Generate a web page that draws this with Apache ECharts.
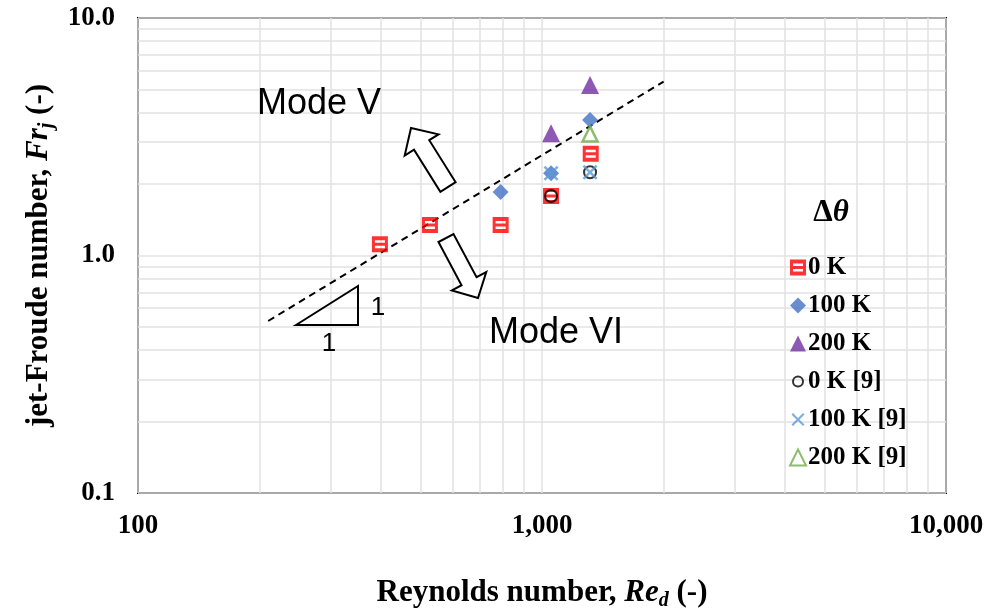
<!DOCTYPE html>
<html><head><meta charset="utf-8">
<script src="https://cdn.jsdelivr.net/npm/echarts@6/dist/echarts.min.js"></script>
<style>html,body{margin:0;padding:0;background:#fff}#c{width:989px;height:615px}</style>
</head><body><div id="c"></div>
<script>
// ---- data ----
const xTickLabels = ['100', '1,000', '10,000'];
const yTickLabels = ['0.1', '1.0', '10.0'];
const xGridLines = [200,300,400,500,600,700,800,900,2000,3000,4000,5000,6000,7000,8000,9000];
const yGridLines = [0.2,0.3,0.4,0.5,0.6,0.7,0.8,0.9,2,3,4,5,6,7,8,9];
const seriesNames = ['0 K', '100 K', '200 K', '0 K [9]', '100 K [9]', '200 K [9]'];
const re0K = [397, 528, 790, 1053, 1320];
const fr0K = [1.115, 1.344, 1.344, 1.78, 2.68];
const re100K = [790, 1053, 1315];
const fr100K = [1.85, 2.22, 3.72];
const re200K = [1053, 1315];
const fr200K = [3.27, 5.22];
const re0K9 = [1053, 1315];
const fr0K9 = [1.78, 2.24];
const re100K9 = [1053, 1315];
const fr100K9 = [2.22, 2.24];
const re200K9 = [1315];
const fr200K9 = [3.25];
const trendRe = [210, 2000];
const trendFr = [0.53, 5.4];

const zip = (a, b) => a.map((v, i) => [v, b[i]]);
const SERIF = '"Liberation Serif", "Times New Roman", serif';
const SANS = '"Liberation Sans", Arial, sans-serif';

const stripedSquare = 'path://M0,0L16,0L16,16L0,16Z M3,4L3,6.5L13,6.5L13,4Z M3,9.5L3,12L13,12L13,9.5Z';
const xCross = 'path://M0,1.2L1.2,0L5,3.8L8.8,0L10,1.2L6.2,5L10,8.8L8.8,10L5,6.2L1.2,10L0,8.8L3.8,5Z';
const smallCircleIcon = 'path://M0,0M16,16M3,8A5,5,0,1,1,13,8A5,5,0,1,1,3,8Z';
const smallCrossIcon = 'path://M0,0M16,16M1.5,3L3,1.5L8,6.5L13,1.5L14.5,3L9.5,8L14.5,13L13,14.5L8,9.5L3,14.5L1.5,13L6.5,8Z';

const chart = echarts.init(document.getElementById('c'), null, {renderer: 'canvas'});

function arrowPts(T, P, w, W, h) {
  const dx = P[0] - T[0], dy = P[1] - T[1];
  const L = Math.hypot(dx, dy);
  const u = [dx / L, dy / L], n = [-u[1], u[0]];
  const B = [P[0] - u[0] * h, P[1] - u[1] * h];
  const add = (p, k) => [p[0] + n[0] * k, p[1] + n[1] * k];
  return [add(T, w / 2), add(B, w / 2), add(B, W / 2), P, add(B, -W / 2), add(B, -w / 2), add(T, -w / 2)];
}

const scatterBase = {type: 'scatter', z: 4};
const richName = {
  b: {fontFamily: SERIF, fontWeight: 'bold', fontSize: 31, color: '#000', lineHeight: 36},
  i: {fontFamily: SERIF, fontWeight: 'bold', fontStyle: 'italic', fontSize: 31, color: '#000', lineHeight: 36},
  s: {fontFamily: SERIF, fontWeight: 'bold', fontStyle: 'italic', fontSize: 20, color: '#000', lineHeight: 20, verticalAlign: 'bottom'}
};

const option = {
  animation: false,
  backgroundColor: '#fff',
  grid: {left: 138, right: 43, top: 18, bottom: 122, outerBoundsMode: 'none', containLabel: false,
    show: true, borderColor: '#000', borderWidth: 2, backgroundColor: '#fff', z: 0},
  xAxis: {
    type: 'log', logBase: 10, min: 100, max: 10000,
    axisLine: {show: false}, axisTick: {show: false},
    splitLine: {show: true, lineStyle: {color: '#e2e2e2', width: 1.5}},
    axisLabel: {
      margin: 20, color: '#000', fontFamily: SERIF, fontWeight: 'bold', fontSize: 27,
      formatter: v => { const i = Math.round(Math.log10(v)) - 2; return xTickLabels[i] || ''; }
    },
    name: '{b|Reynolds number, }{i|Re}{s|d}{b| (-)}',
    nameLocation: 'middle', nameGap: 82,
    nameTextStyle: {rich: richName}
  },
  yAxis: {
    type: 'log', logBase: 10, min: 0.1, max: 10,
    axisLine: {show: false}, axisTick: {show: false},
    splitLine: {show: true, lineStyle: {color: '#e2e2e2', width: 1.5}},
    axisLabel: {
      margin: 23, color: '#000', fontFamily: SERIF, fontWeight: 'bold', fontSize: 27,
      formatter: v => { const i = Math.round(Math.log10(v)) + 1; return yTickLabels[i] || ''; }
    },
    name: '{b|jet-Froude number, }{i|Fr}{s|j}{b| (-)}',
    nameLocation: 'middle', nameGap: 80, nameRotate: 90,
    nameTextStyle: {rich: richName}
  },
  legend: {
    data: [
      {name: seriesNames[0]}, {name: seriesNames[1]}, {name: seriesNames[2]},
      {name: seriesNames[3], icon: smallCircleIcon},
      {name: seriesNames[4], icon: smallCrossIcon},
      {name: seriesNames[5]}
    ],
    orient: 'vertical', left: 784, top: 250,
    itemWidth: 16, itemHeight: 16, itemGap: 13, selectedMode: false,
    textStyle: {fontFamily: SERIF, fontWeight: 'bold', fontSize: 25, color: '#000', padding: [0, 0, 0, -3]}
  },
  series: [
    {
      name: 'grid', type: 'line', data: [], silent: true, z: 1,
      markLine: {
        silent: true, z: 1, symbol: ['none', 'none'], animation: false,
        label: {show: false},
        lineStyle: {color: '#e2e2e2', width: 1.5, type: 'solid'},
        emphasis: {disabled: true},
        data: [...xGridLines.map(v => ({xAxis: v})), ...yGridLines.map(v => ({yAxis: v}))]
      }
    },
    {
      name: 'trend', type: 'line', data: zip(trendRe, trendFr), symbol: 'none', silent: true, z: 3,
      lineStyle: {color: '#000', width: 2, type: [7, 5]}
    },
    Object.assign({}, scatterBase, {name: seriesNames[0], data: zip(re0K, fr0K), symbol: stripedSquare, symbolSize: 16,
      itemStyle: {color: '#FF0000'}}),
    Object.assign({}, scatterBase, {name: seriesNames[1], data: zip(re100K, fr100K), symbol: 'diamond', symbolSize: 16,
      itemStyle: {color: '#4472C4'}}),
    Object.assign({}, scatterBase, {name: seriesNames[2], data: zip(re200K, fr200K), symbol: 'triangle', symbolSize: 18,
      itemStyle: {color: '#7030A0'}}),
    Object.assign({}, scatterBase, {name: seriesNames[3], data: zip(re0K9, fr0K9), symbol: 'circle', symbolSize: 12,
      itemStyle: {color: 'rgba(0,0,0,0)', borderColor: '#000', borderWidth: 2}}),
    Object.assign({}, scatterBase, {name: seriesNames[4], data: zip(re100K9, fr100K9), symbol: xCross, symbolSize: 15,
      itemStyle: {color: '#5B9BD5'}}),
    Object.assign({}, scatterBase, {name: seriesNames[5], data: zip(re200K9, fr200K9), symbol: 'triangle', symbolSize: 15,
      itemStyle: {color: 'rgba(0,0,0,0)', borderColor: '#70AD47', borderWidth: 2.5}})
  ],
  graphic: [
    {type: 'text', left: 257, top: 86, z: 10, style: {text: 'Mode V', font: '36px ' + SANS, fill: '#000'}},
    {type: 'text', left: 489, top: 315, z: 10, style: {text: 'Mode VI', font: '36px ' + SANS, fill: '#000'}},
    {type: 'polygon', z: 10, shape: {points: [[296, 325], [358, 286], [358, 325]]}, style: {fill: 'none', stroke: '#000', lineWidth: 2}},
    {type: 'text', x: 378, y: 308, z: 10, style: {text: '1', font: '26px ' + SANS, fill: '#000', align: 'center', verticalAlign: 'middle'}},
    {type: 'text', x: 329, y: 344, z: 10, style: {text: '1', font: '26px ' + SANS, fill: '#000', align: 'center', verticalAlign: 'middle'}},
    {type: 'polygon', z: 10, shape: {points: arrowPts([448, 187], [411, 128], 18, 40, 20)}, style: {fill: '#fff', stroke: '#000', lineWidth: 2}},
    {type: 'polygon', z: 10, shape: {points: arrowPts([446, 238], [478, 298], 17, 39, 19)}, style: {fill: '#fff', stroke: '#000', lineWidth: 2}},
    {type: 'text', x: 831, y: 213, z: 10, style: {
      text: '{d|Δ}{t|θ}', align: 'center', verticalAlign: 'middle',
      rich: {
        d: {font: 'bold 31px ' + SERIF, fill: '#000'},
        t: {font: 'bold italic 31px ' + SERIF, fill: '#000'}
      }
    }}
  ]
};
chart.setOption(option);
</script>
</body></html>
